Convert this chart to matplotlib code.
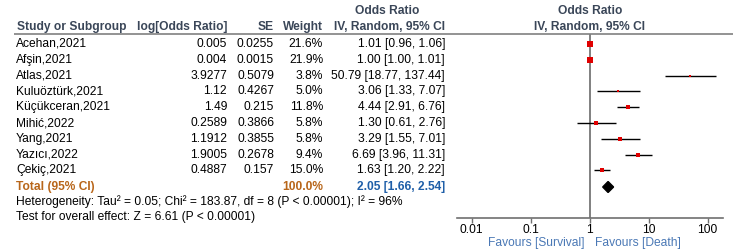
import matplotlib
matplotlib.use("Agg")
import matplotlib.pyplot as plt
import numpy as np

plt.rcParams['font.family'] = ['Liberation Sans', 'DejaVu Sans']

# ---- data ----
studies = ["Acehan,2021", "Afşin,2021", "Atlas,2021", "Kuluöztürk,2021", "Küçükceran,2021",
           "Mihić,2022", "Yang,2021", "Yazıcı,2022", "Çekiç,2021"]
log_or_txt = ["0.005", "0.004", "3.9277", "1.12", "1.49", "0.2589", "1.1912", "1.9005", "0.4887"]
se_txt = ["0.0255", "0.0015", "0.5079", "0.4267", "0.215", "0.3866", "0.3855", "0.2678", "0.157"]
weights = [21.6, 21.9, 3.8, 5.0, 11.8, 5.8, 5.8, 9.4, 15.0]
or_vals = [1.01, 1.00, 50.79, 3.06, 4.44, 1.30, 3.29, 6.69, 1.63]
ci_lo = [0.96, 1.00, 18.77, 1.33, 2.91, 0.61, 1.55, 3.96, 1.20]
ci_hi = [1.06, 1.01, 137.44, 7.07, 6.76, 2.76, 7.01, 11.31, 2.22]
total_or, total_lo, total_hi = 2.05, 1.66, 2.54
total_weight = 100.0
het_text = "Heterogeneity: Tau² = 0.05; Chi² = 183.87, df = 8 (P < 0.00001); I² = 96%"
test_text = "Test for overall effect: Z = 6.61 (P < 0.00001)"
tick_vals = [0.01, 0.1, 1, 10, 100]
tick_labels = ["0.01", "0.1", "1", "10", "100"]
fav_left = "Favours [Survival]"
fav_right = "Favours [Death]"

# ---- layout (pixels) ----
W, H = 740, 252
row0, drow = 44, 15.8
rows_y = [row0 + i * drow for i in range(len(studies))]
y_total = 187
y_het, y_test = 202, 217
axis_y, top_y = 218, 34
x_left_ax, x_right_ax = 457.3, 722.7
x_001, px_per_dec = 471.7, 59.0

HEAD = '#3a4658'
TOT = '#b8661a'
BLUE = '#1f5fa8'
FAV = '#4a78b5'
FS = 8.65

fig = plt.figure(figsize=(W / 100, H / 100), dpi=100)
bg = fig.add_axes([0, 0, 1, 1])
bg.set_xlim(0, W)
bg.set_ylim(H, 0)
bg.axis('off')

# headers
bg.text(17, 27, "Study or Subgroup", ha='left', va='center', fontsize=FS, fontweight='bold', color=HEAD)
bg.text(227, 27, "log[Odds Ratio]", ha='right', va='center', fontsize=FS, fontweight='bold', color=HEAD)
bg.text(274, 27, "SE", ha='right', va='center', fontsize=FS, fontweight='bold', color=HEAD)
bg.text(323, 27, "Weight", ha='right', va='center', fontsize=FS, fontweight='bold', color=HEAD)
bg.text(387, 11, "Odds Ratio", ha='center', va='center', fontsize=FS, fontweight='bold', color=HEAD)
bg.text(445, 27, "IV, Random, 95% CI", ha='right', va='center', fontsize=FS, fontweight='bold', color=HEAD)
bg.text(590, 11, "Odds Ratio", ha='center', va='center', fontsize=FS, fontweight='bold', color=HEAD)
bg.text(590, 27, "IV, Random, 95% CI", ha='center', va='center', fontsize=FS, fontweight='bold', color=HEAD)
bg.plot([14, 733], [top_y, top_y], color='#808080', lw=1.2, solid_capstyle='butt')

for i, y in enumerate(rows_y):
    bg.text(16, y, studies[i], ha='left', va='center', fontsize=FS, color='black')
    bg.text(227, y, log_or_txt[i], ha='right', va='center', fontsize=FS, color='black')
    bg.text(274, y, se_txt[i], ha='right', va='center', fontsize=FS, color='black')
    bg.text(323, y, f"{weights[i]:.1f}%", ha='right', va='center', fontsize=FS, color='black')
    bg.text(445, y, f"{or_vals[i]:.2f} [{ci_lo[i]:.2f}, {ci_hi[i]:.2f}]", ha='right', va='center',
            fontsize=FS, color='black')

bg.text(16, y_total, "Total (95% CI)", ha='left', va='center', fontsize=FS, fontweight='bold', color=TOT)
bg.text(323, y_total, f"{total_weight:.1f}%", ha='right', va='center', fontsize=FS, fontweight='bold', color=TOT)
bg.text(445, y_total, f"{total_or:.2f} [{total_lo:.2f}, {total_hi:.2f}]", ha='right', va='center',
        fontsize=FS, fontweight='bold', color=BLUE)
bg.text(16, y_het, het_text, ha='left', va='center', fontsize=FS, color='black')
bg.text(16, y_test, test_text, ha='left', va='center', fontsize=FS, color='black')

bg.text(585, 243, fav_left, ha='right', va='center', fontsize=FS, color=FAV)
bg.text(595, 243, fav_right, ha='left', va='center', fontsize=FS, color=FAV)

# ---- forest axes ----
fa = fig.add_axes([x_left_ax / W, (H - axis_y) / H, (x_right_ax - x_left_ax) / W, (axis_y - top_y) / H])
fa.patch.set_alpha(0)
fa.set_xscale('log')
lo_dec = -2 - (x_001 - x_left_ax) / px_per_dec
hi_dec = -2 + (x_right_ax - x_001) / px_per_dec
fa.set_xlim(10 ** lo_dec, 10 ** hi_dec)
fa.set_ylim(axis_y, top_y)
for s in ['top', 'left', 'right']:
    fa.spines[s].set_visible(False)
fa.spines['bottom'].set_color('#707070')
fa.spines['bottom'].set_linewidth(1.2)
fa.set_yticks([])
fa.set_xticks(tick_vals)
fa.set_xticklabels(tick_labels)
fa.xaxis.set_minor_locator(matplotlib.ticker.NullLocator())
fa.tick_params(axis='x', direction='out', length=3.5, width=1, color='#707070', labelsize=FS, pad=0.8)

fa.axvline(1, color='#808080', lw=1.4, zorder=1)

for i, y in enumerate(rows_y):
    fa.plot([ci_lo[i], ci_hi[i]], [y, y], color='black', lw=1.0, zorder=2, solid_capstyle='butt')
    side = 1.25 * np.sqrt(weights[i]) * 0.72
    fa.plot([or_vals[i]], [y], marker='s', ms=side, color='#e00000', mec='#e00000', mew=0, zorder=3)

dh = 5.5
fa.fill([total_lo, total_or, total_hi, total_or], [y_total, y_total - dh, y_total, y_total + dh],
        color='black', zorder=3)

fig.savefig("out.png", dpi=100)
